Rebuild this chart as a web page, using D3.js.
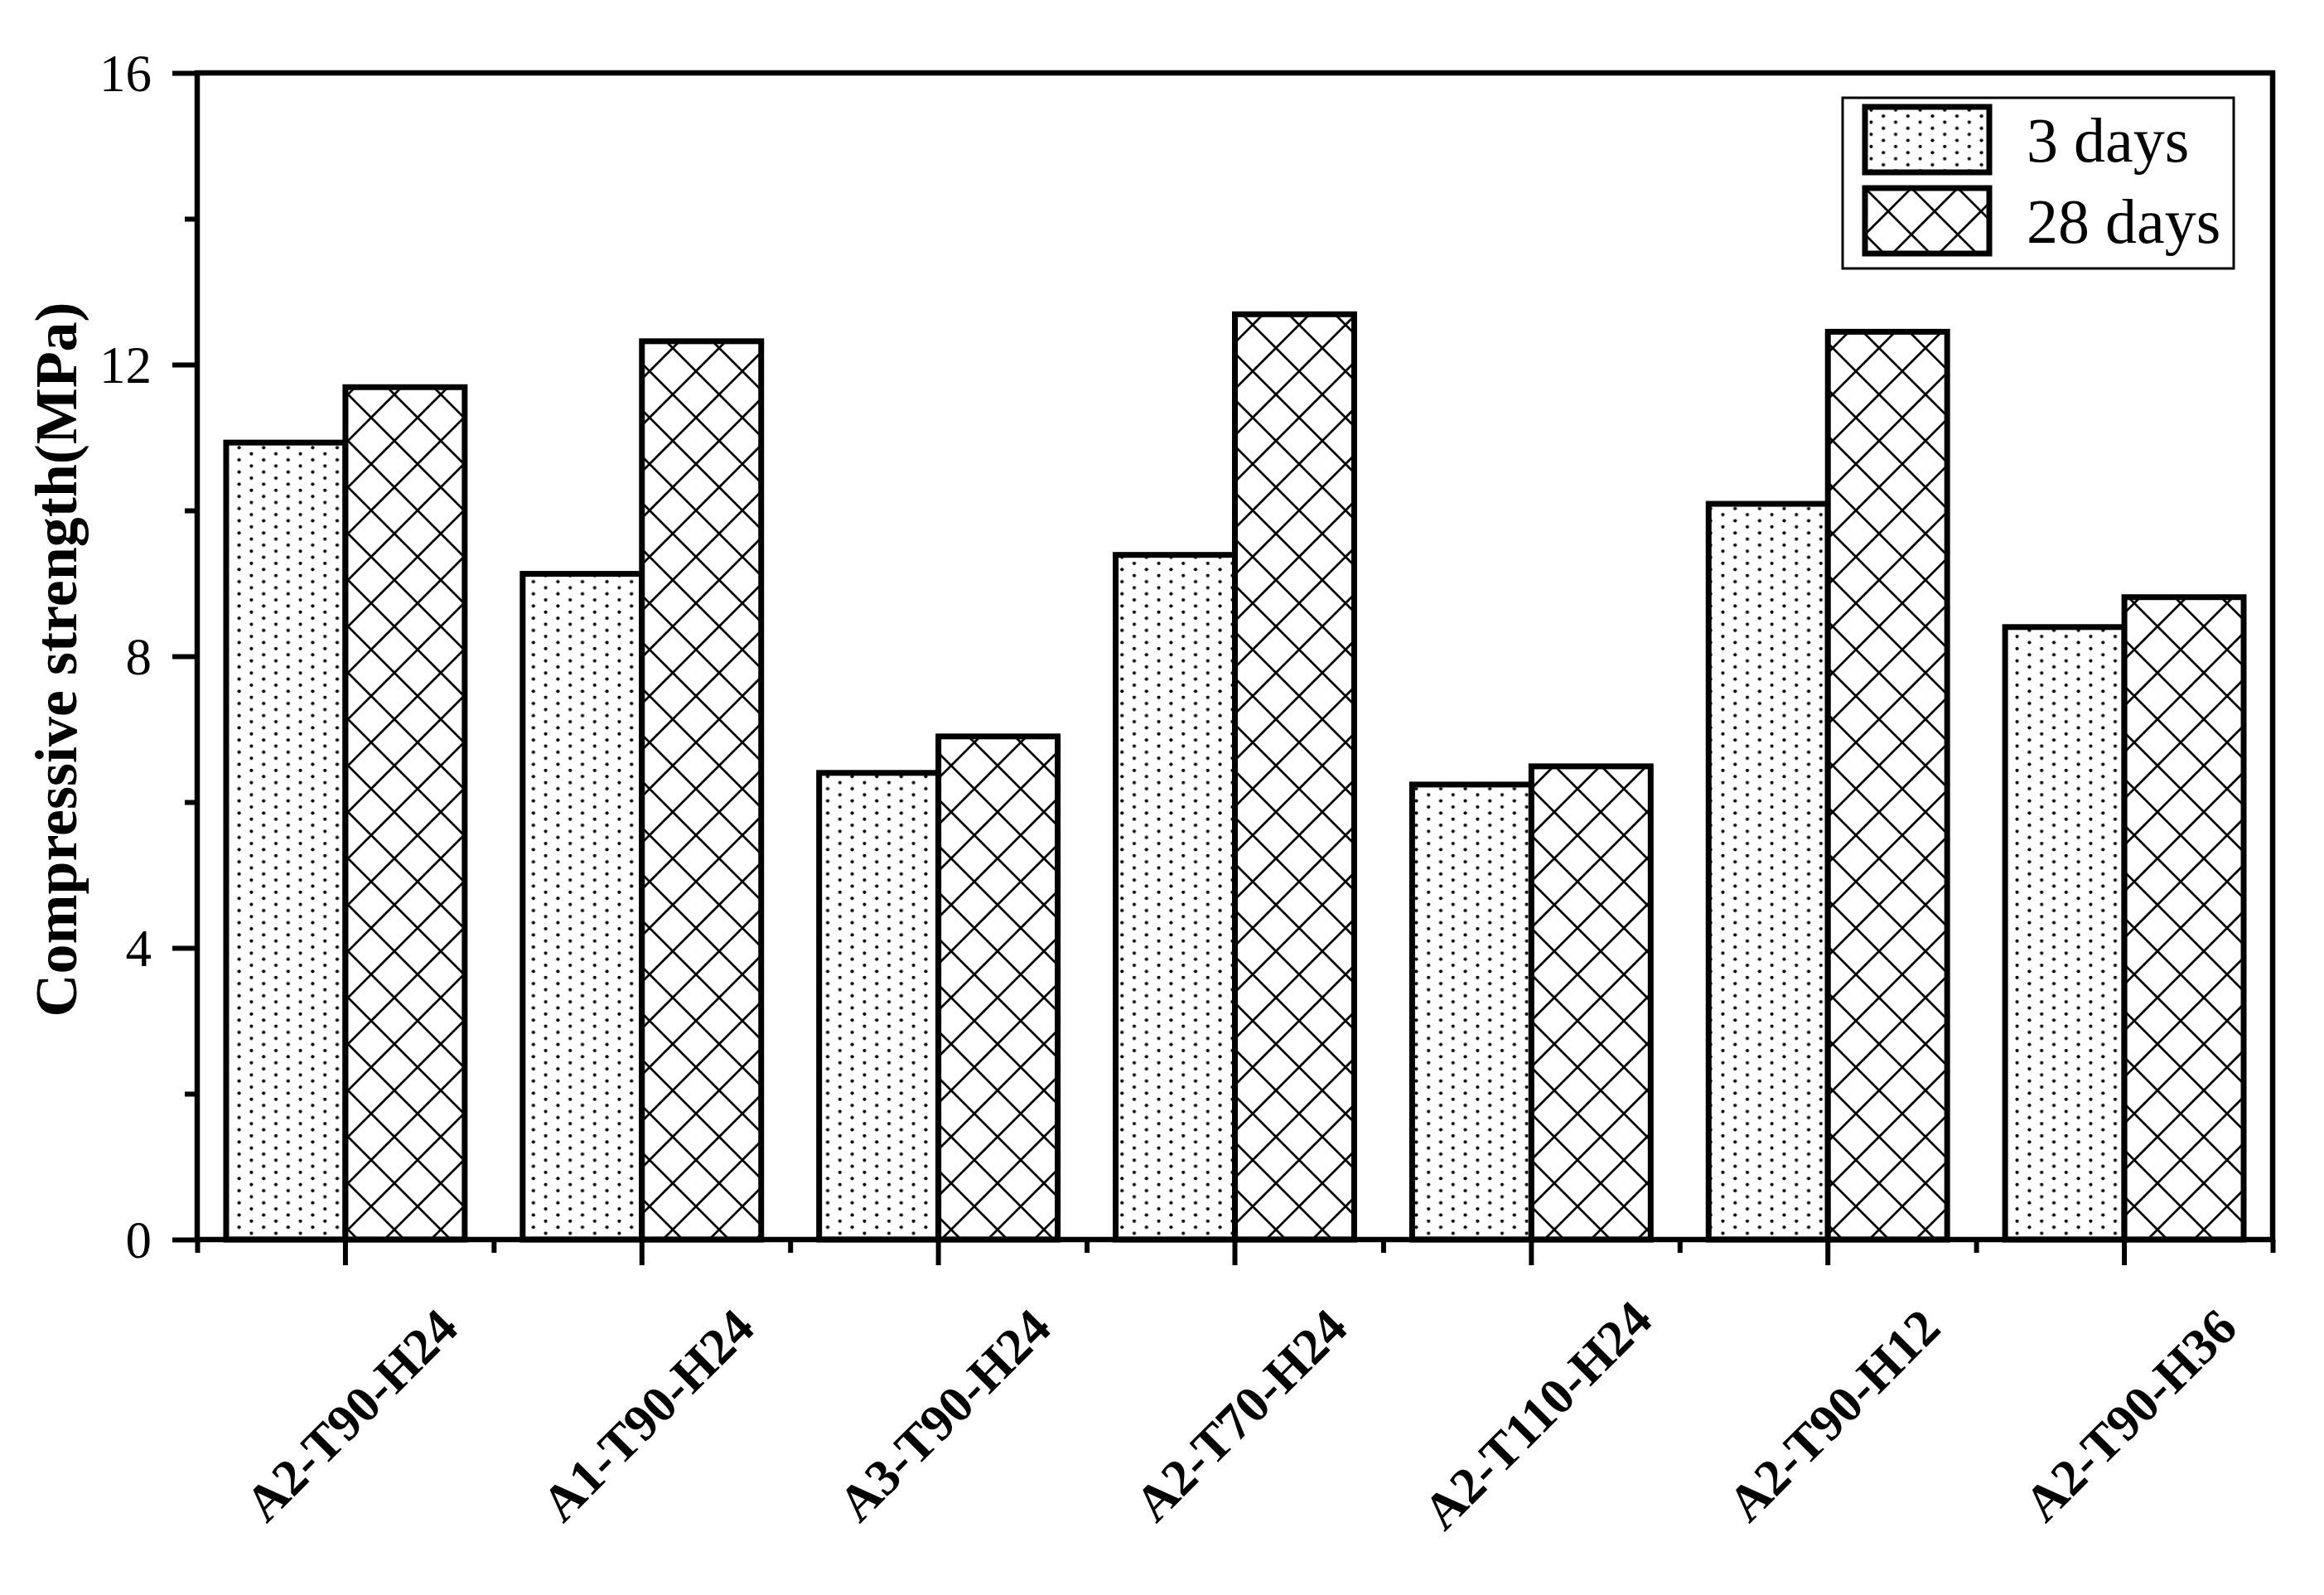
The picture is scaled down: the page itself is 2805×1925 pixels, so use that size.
<!DOCTYPE html>
<meta charset="utf-8">

<script src="https://d3js.org/d3.v7.min.js"></script>

<style type="text/css">

body {
  margin: 0;
  background: #fff;
}

svg text {
  font-family: "Liberation Serif", "Times New Roman", serif;
  fill: #000;
}

</style>

<body>
</body>

<script>

// data
var categories = ["A2-T90-H24", "A1-T90-H24", "A3-T90-H24", "A2-T70-H24", "A2-T110-H24", "A2-T90-H12", "A2-T90-H36"];
var seriesNames = ["3 days", "28 days"];
var days3 = [10.93, 9.13, 6.40, 9.39, 6.24, 10.09, 8.40];
var days28 = [11.69, 12.32, 6.90, 12.69, 6.49, 12.45, 8.81];
var yMajorTicks = [0, 4, 8, 12, 16];
var yMinorTicks = [2, 6, 10, 14];

var data = [];
categories.forEach(function(c, i) {
  data.push({cat: c, series: seriesNames[0], value: days3[i]});
  data.push({cat: c, series: seriesNames[1], value: days28[i]});
});

var width = 2805;
var height = 1925;
// plot frame (note: "top" is a reserved window prop, so use plot* names)
var plotLeft = 238, plotRight = 2743, plotTop = 88, plotBottom = 1496;

var svg = d3.select("body").append("svg")
    .attr("width", width)
    .attr("height", height);

// patterns: dots for 3 days, crosshatch for 28 days
var defs = svg.append("defs");

var dots = defs.append("pattern")
    .attr("id", "dots")
    .attr("patternUnits", "userSpaceOnUse")
    .attr("width", 29.6)
    .attr("height", 14.7);
dots.append("rect").attr("width", 29.6).attr("height", 14.7).attr("fill", "#fff");
dots.append("circle").attr("cx", 7.4).attr("cy", 3.7).attr("r", 2.1).attr("fill", "#000");
dots.append("circle").attr("cx", 22.2).attr("cy", 11.05).attr("r", 2.1).attr("fill", "#000");

var hatch = defs.append("pattern")
    .attr("id", "hatch")
    .attr("patternUnits", "userSpaceOnUse")
    .attr("width", 56)
    .attr("height", 56);
hatch.append("rect").attr("width", 56).attr("height", 56).attr("fill", "#fff");
hatch.append("path")
    .attr("d", "M-4,-4L60,60M60,-4L-4,60")
    .attr("stroke", "#000")
    .attr("stroke-width", 2.8)
    .attr("fill", "none");

var fills = {"3 days": "url(#dots)", "28 days": "url(#hatch)"};

// scales
var x = d3.scaleBand()
    .domain(categories)
    .range([plotLeft, plotRight]);

var xSub = d3.scaleBand()
    .domain(seriesNames)
    .range([0, x.bandwidth()])
    .paddingInner(0)
    .paddingOuter(0.243);

var xEdge = d3.scaleLinear()
    .domain([0, categories.length])
    .range([plotLeft, plotRight]);

var y = d3.scaleLinear()
    .domain([0, 16])
    .range([plotBottom, plotTop]);

// bars
svg.selectAll(".bar")
  .data(data)
  .enter().append("rect")
  .attr("class", "bar")
  .attr("x", function(d) { return x(d.cat) + xSub(d.series); })
  .attr("width", xSub.bandwidth())
  .attr("y", function(d) { return y(d.value); })
  .attr("height", function(d) { return y(0) - y(d.value); })
  .attr("fill", function(d) { return fills[d.series]; })
  .attr("stroke", "#000")
  .attr("stroke-width", 7);

// axes
var yAxis = svg.append("g")
    .attr("transform", "translate(" + plotLeft + ",0)")
    .call(d3.axisLeft(y).tickValues(yMajorTicks).tickSize(30).tickPadding(25).tickFormat(d3.format("d")));

svg.append("g")
    .attr("transform", "translate(" + plotLeft + ",0)")
    .call(d3.axisLeft(y).tickValues(yMinorTicks).tickSize(15).tickFormat(""));

svg.append("g")
    .attr("transform", "translate(0," + plotBottom + ")")
    .call(d3.axisBottom(x).tickSize(31).tickFormat(""));

svg.append("g")
    .attr("transform", "translate(0," + plotBottom + ")")
    .call(d3.axisBottom(xEdge).tickValues(d3.range(0, categories.length + 1)).tickSize(16).tickFormat(""));

svg.selectAll(".domain").remove();
svg.selectAll(".tick line").attr("stroke", "#000").attr("stroke-width", 6);

yAxis.selectAll("text")
    .attr("font-size", 63)
    .attr("dy", "0.34em");

// frame
svg.append("rect")
    .attr("x", plotLeft)
    .attr("y", plotTop)
    .attr("width", plotRight - plotLeft)
    .attr("height", plotBottom - plotTop)
    .attr("fill", "none")
    .attr("stroke", "#000")
    .attr("stroke-width", 6.5);

// rotated category labels, centred under each group
svg.selectAll(".catLabel")
  .data(categories)
  .enter().append("text")
  .attr("class", "catLabel")
  .attr("transform", function(d) { return "translate(" + (x(d) + x.bandwidth() / 2 + 7) + ",1708) rotate(-45)"; })
  .attr("text-anchor", "middle")
  .attr("dominant-baseline", "central")
  .attr("font-size", 62)
  .attr("font-weight", "bold")
  .text(function(d) { return d; });

// y title
svg.append("text")
    .attr("transform", "translate(68,796) rotate(-90)")
    .attr("text-anchor", "middle")
    .attr("dominant-baseline", "central")
    .attr("font-size", 72)
    .attr("font-weight", "bold")
    .text("Compressive strength(MPa)");

// legend
var legend = svg.append("g");

legend.append("rect")
    .attr("x", 2224)
    .attr("y", 118)
    .attr("width", 472)
    .attr("height", 206)
    .attr("fill", "#fff")
    .attr("stroke", "#000")
    .attr("stroke-width", 3);

var item = legend.selectAll(".item")
  .data(seriesNames)
  .enter().append("g")
  .attr("class", "item")
  .attr("transform", function(d, i) { return "translate(2251," + (129 + i * 98) + ")"; });

item.append("rect")
    .attr("width", 150)
    .attr("height", 79)
    .attr("fill", function(d) { return fills[d]; })
    .attr("stroke", "#000")
    .attr("stroke-width", 7);

item.append("text")
    .attr("x", 195)
    .attr("y", 40)
    .attr("dominant-baseline", "central")
    .attr("font-size", 76)
    .text(function(d) { return d; });

</script>
